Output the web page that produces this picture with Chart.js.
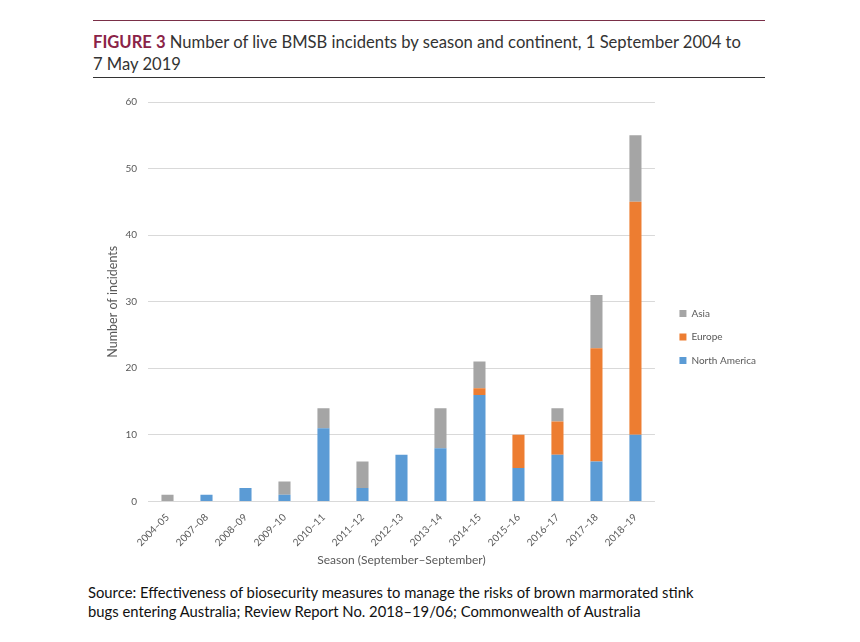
<!DOCTYPE html>
<html>
<head>
<meta charset="utf-8">
<script src="https://cdn.jsdelivr.net/npm/chart.js@4.4.1/dist/chart.umd.min.js"></script>
<style>
  html, body { margin: 0; padding: 0; background: #fff; }
  body { width: 860px; height: 642px; position: relative; overflow: hidden; font-family: Lato, "Open Sans", sans-serif; }
  .rule { position: absolute; left: 93px; width: 672px; height: 0; }
  #ruleTop { top: 20px; border-top: 1.5px solid #7a2f48; }
  #ruleBottom { top: 77px; border-top: 1.5px solid #333; }
  #title { position: absolute; left: 93px; top: 31px; width: 720px; font-size: 16.6px; line-height: 22px; color: #333; white-space: nowrap; }
  #title b { color: #8b2347; }
  #wrap { position: absolute; left: 105px; top: 85px; width: 705px; height: 486px; }
  #source { position: absolute; left: 88px; top: 583px; width: 740px; font-size: 14.8px; line-height: 19px; color: #111; white-space: nowrap; }
</style>
</head>
<body>
<div class="rule" id="ruleTop"></div>
<div id="title"><b>FIGURE 3</b> Number of live BMSB incidents by season and continent, 1 September 2004 to<br>7 May 2019</div>
<div class="rule" id="ruleBottom"></div>
<div id="wrap"><canvas id="chart"></canvas></div>
<div id="source">Source: Effectiveness of biosecurity measures to manage the risks of brown marmorated stink<br>bugs entering Australia; Review Report No. 2018–19/06; Commonwealth of Australia</div>

<script>
const seasons = ['2004–05', '2007–08', '2008–09', '2009–10', '2010–11', '2011–12', '2012–13',
                 '2013–14', '2014–15', '2015–16', '2016–17', '2017–18', '2018–19'];
const northAmerica = [0, 1, 2, 1, 11, 2, 7, 8, 16, 5, 7, 6, 10];
const europe       = [0, 0, 0, 0, 0, 0, 0, 0, 1, 5, 5, 17, 35];
const asia         = [1, 0, 0, 2, 3, 4, 0, 6, 4, 0, 2, 8, 10];
const yTicks = [0, 10, 20, 30, 40, 50, 60];

const labelColor = '#595959';
const fontFamily = 'Lato, "Open Sans", sans-serif';
const tickFont = { family: fontFamily, size: 10 };

function series(label, data, color) {
    return {
        label: label,
        data: data,
        backgroundColor: color,
        borderWidth: 0,
        barPercentage: 0.31,
        categoryPercentage: 1.0
    };
}

// push the legend a little away from the plot area
const legendGap = {
    id: 'legendGap',
    afterLayout(chart) {
        chart.legend.left += 11;
        chart.legend.right += 11;
        chart.legend.top += 4;
        chart.legend.bottom += 4;
    }
};

new Chart(document.getElementById('chart'), {
    type: 'bar',
    data: {
        labels: seasons,
        datasets: [
            series('North America', northAmerica, '#5b9bd5'),
            series('Europe', europe, '#ed7d31'),
            series('Asia', asia, '#a5a5a5')
        ]
    },
    plugins: [legendGap],
    options: {
        responsive: true,
        maintainAspectRatio: false,
        animation: false,
        layout: { padding: { top: 10, right: 55 } },
        plugins: {
            tooltip: { enabled: false },
            legend: {
                position: 'right',
                reverse: true,
                labels: {
                    boxWidth: 7,
                    boxHeight: 7,
                    padding: 13.5,
                    color: labelColor,
                    font: tickFont
                }
            }
        },
        scales: {
            x: {
                stacked: true,
                grid: { display: false },
                border: { display: false },
                ticks: {
                    color: labelColor,
                    font: tickFont,
                    maxRotation: 45,
                    minRotation: 45,
                    padding: 2
                },
                title: {
                    display: true,
                    text: 'Season (September–September)',
                    color: labelColor,
                    font: { family: fontFamily, size: 12 },
                    padding: { top: 2 }
                }
            },
            y: {
                stacked: true,
                min: 0,
                max: 60,
                afterBuildTicks: axis => { axis.ticks = yTicks.map(v => ({ value: v })); },
                afterFit: axis => { axis.width = 43; },
                grid: { color: '#d9d9d9', drawTicks: false },
                border: { display: false },
                ticks: {
                    color: labelColor,
                    font: tickFont,
                    padding: 11
                },
                title: {
                    display: true,
                    text: 'Number of incidents',
                    color: labelColor,
                    font: { family: fontFamily, size: 12.5 },
                    padding: { top: 0, bottom: 0 }
                }
            }
        }
    }
});
</script>
</body>
</html>
